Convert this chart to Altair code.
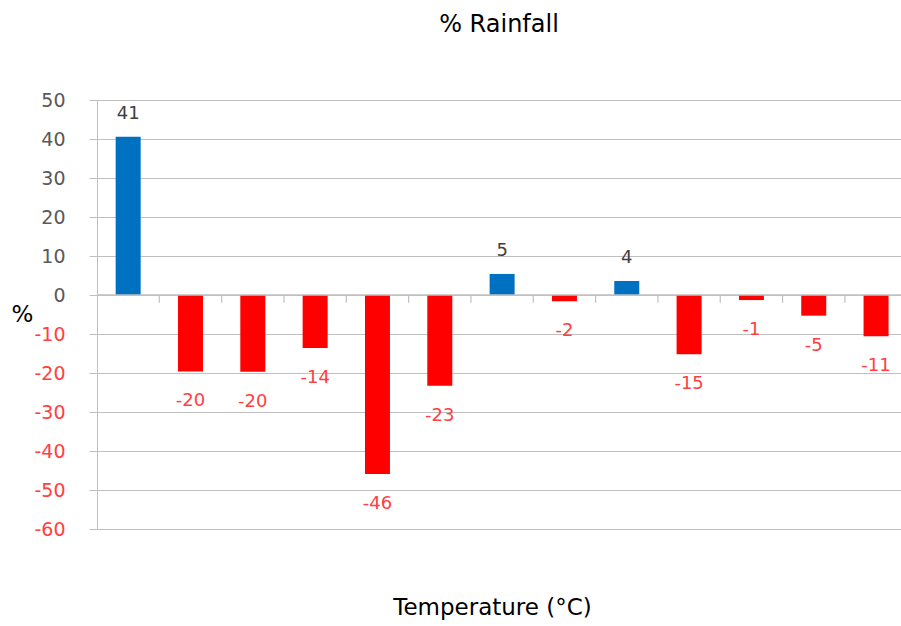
import altair as alt
import pandas as pd

# ---- data ----
positions = list(range(13))
values = [40.6, -19.6, -19.7, -13.6, -45.9, -23.3, 5.4, -1.6, 3.6, -15.2, -1.3, -5.3, -10.6]
boundaries = [0.5 + i for i in range(12)]
y_ticks = [50, 40, 30, 20, 10, 0, -10, -20, -30, -40, -50, -60]

df = pd.DataFrame({"pos": positions, "value": values})
df["sign"] = ["pos" if v >= 0 else "neg" for v in values]
bdf = pd.DataFrame({"b": boundaries, "z0": [0] * len(boundaries), "z1": [-2] * len(boundaries)})
zdf = pd.DataFrame({"z": [0]})

FONT = "DejaVu Sans"
GRID = "#C0C0C0"
BLUE = "#0070C0"
RED = "#FF0000"
RED_TXT = "#FF4040"
GRAY_TXT = "#595959"

x_scale = alt.Scale(domain=[-0.5, 12.4], nice=False, zero=False, padding=0)
y_scale = alt.Scale(domain=[-60, 50], nice=False, zero=False, padding=0)

x_axis = alt.Axis(
    title="Temperature (°C)", labels=False, ticks=False, domain=False, grid=False,
    titleFont=FONT, titleFontSize=23, titleFontWeight="normal", titleColor="#000000",
    titleX=395, titleY=78, titleAlign="center", titleBaseline="middle",
)
y_axis = alt.Axis(
    values=y_ticks, title="%", grid=True, gridColor=GRID, gridWidth=1,
    domain=True, domainColor=GRID, domainWidth=1,
    ticks=True, tickColor=GRID, tickSize=8, tickWidth=1,
    labelFont=FONT, labelFontSize=19, labelPadding=24, labelOverlap=False,
    labelFlush=False, labelBound=False,
    labelExpr="replace(datum.label, '\u2212', '-')",
    labelColor=alt.expr(f"datum.value < 0 ? '{RED_TXT}' : '{GRAY_TXT}'"),
    titleFont=FONT, titleFontSize=23, titleFontWeight="normal", titleColor="#000000",
    titleAngle=0, titleX=-75, titleY=214, titleAlign="center", titleBaseline="middle",
)

base = alt.Chart(df).transform_calculate(lbl="'' + round(datum.value)")

bars = base.mark_bar(size=25).encode(
    x=alt.X("pos:Q", scale=x_scale, axis=x_axis),
    y=alt.Y("value:Q", scale=y_scale, axis=y_axis),
    y2=alt.datum(0),
    color=alt.Color("sign:N", scale=alt.Scale(domain=["pos", "neg"], range=[BLUE, RED]), legend=None),
)

zero_line = alt.Chart(zdf).mark_rule(color=GRID, strokeWidth=1.5).encode(
    y=alt.Y("z:Q", scale=y_scale, axis=None)
)

cat_ticks = alt.Chart(bdf).mark_rule(color=GRID, strokeWidth=1.2).encode(
    x=alt.X("b:Q", scale=x_scale, axis=None),
    y=alt.Y("z0:Q", scale=y_scale, axis=None),
    y2="z1:Q",
)

pos_text = base.transform_filter("datum.value >= 0").mark_text(
    dy=-23, baseline="middle", font=FONT, fontSize=18, color="#404040"
).encode(
    x=alt.X("pos:Q", scale=x_scale, axis=None),
    y=alt.Y("value:Q", scale=y_scale, axis=None),
    text=alt.Text("lbl:N"),
)

neg_text = base.transform_filter("datum.value < 0").mark_text(
    dy=30, baseline="middle", font=FONT, fontSize=18, color=RED_TXT
).encode(
    x=alt.X("pos:Q", scale=x_scale, axis=None),
    y=alt.Y("value:Q", scale=y_scale, axis=None),
    text=alt.Text("lbl:N"),
)

chart = alt.layer(bars, zero_line, cat_ticks, pos_text, neg_text).resolve_axis(
    x="independent", y="independent"
).properties(
    width=804,
    height=429,
    background="white",
    title=alt.TitleParams(
        "% Rainfall", font=FONT, fontSize=24, fontWeight="normal", color="#000000",
        anchor="middle", baseline="alphabetic", offset=35,
    ),
    autosize=alt.AutoSizeParams(type="none"),
    padding={"left": 97, "top": 100, "right": 0, "bottom": 97},
).configure_view(stroke=None)

chart.save("out.html", embed_options={"renderer": "svg", "actions": False})
